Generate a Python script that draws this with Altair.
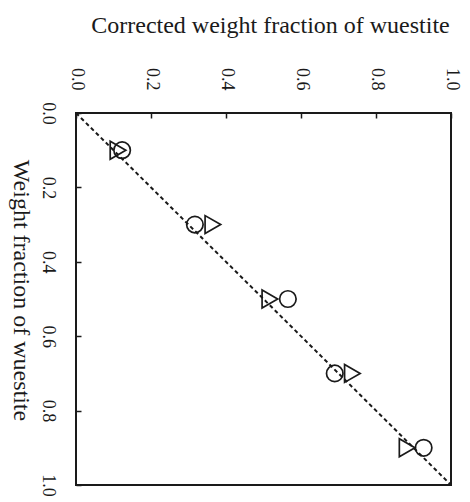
import altair as alt
import pandas as pd

# Data (weight fraction vs corrected weight fraction of wuestite)
weight_fraction = [0.1, 0.3, 0.5, 0.7, 0.9]
corrected_circle = [0.123, 0.317, 0.565, 0.69, 0.927]
corrected_triangle = [0.112, 0.365, 0.517, 0.737, 0.883]
tick_values = [0.0, 0.2, 0.4, 0.6, 0.8, 1.0]
diag = [0.0, 1.0]

FONT = "Liberation Serif"
INK = "#1a1a1a"

df_c = pd.DataFrame({"wf": weight_fraction, "corr": corrected_circle})
df_t = pd.DataFrame({"wf": weight_fraction, "corr": corrected_triangle})
df_d = pd.DataFrame({"wf": diag, "corr": diag})

xscale = alt.Scale(domain=[0, 1], nice=False, zero=False)
yscale = alt.Scale(domain=[0, 1], nice=False, zero=False, reverse=True)

xaxis = alt.Axis(
    orient="top", values=tick_values, format=".1f", grid=False, domain=False,
    labelAngle=90, labelAlign="right", labelBaseline="middle",
    labelFont=FONT, labelFontSize=18, labelColor=INK, labelPadding=28,
    tickSize={"expr": "-5"}, tickColor=INK, tickWidth=1.5,
    title="Corrected weight fraction of wuestite", titleFont=FONT,
    titleFontSize=24, titleFontWeight="normal", titleColor=INK,
    titleAngle=0, titleAlign="center", titleBaseline="alphabetic",
    titleX=194, titleY=-81, labelFlush=False, labelOverlap=False,
)
yaxis = alt.Axis(
    orient="left", values=tick_values, format=".1f", grid=False, domain=False,
    labelAngle=90, labelAlign="center", labelBaseline="top",
    labelFont=FONT, labelFontSize=18, labelColor=INK, labelPadding=25,
    tickSize={"expr": "-5"}, tickColor=INK, tickWidth=1.5,
    title="Weight fraction of wuestite", titleFont=FONT,
    titleFontSize=24, titleFontWeight="normal", titleColor=INK,
    titleAngle=90, titleAlign="center", titleBaseline="alphabetic",
    titleX=-63, titleY=177, labelFlush=False, labelOverlap=False,
)

line = alt.Chart(df_d).mark_line(
    color=INK, strokeDash=[4, 3], strokeWidth=2
).encode(
    x=alt.X("corr:Q", scale=xscale, axis=xaxis),
    y=alt.Y("wf:Q", scale=yscale, axis=yaxis),
)

circles = alt.Chart(df_c).mark_point(
    shape="circle", filled=False, color=INK, strokeWidth=1.7, size=272, opacity=1
).encode(
    x=alt.X("corr:Q", scale=xscale),
    y=alt.Y("wf:Q", scale=yscale),
)

triangles = alt.Chart(df_t).mark_point(
    shape="triangle-right", filled=False, color=INK, strokeWidth=1.7, size=324, opacity=1
).encode(
    x=alt.X("corr:Q", scale=xscale),
    y=alt.Y("wf:Q", scale=yscale),
)

chart = alt.layer(line, circles, triangles).properties(
    width=375, height=372,
    background="white",
    autosize=alt.AutoSizeParams(type="none"),
    padding={"left": 68, "top": 105, "right": 10, "bottom": 14},
).configure_view(
    stroke=INK, strokeWidth=2
)

chart.save("out.html", embed_options={"renderer": "svg", "actions": False})
